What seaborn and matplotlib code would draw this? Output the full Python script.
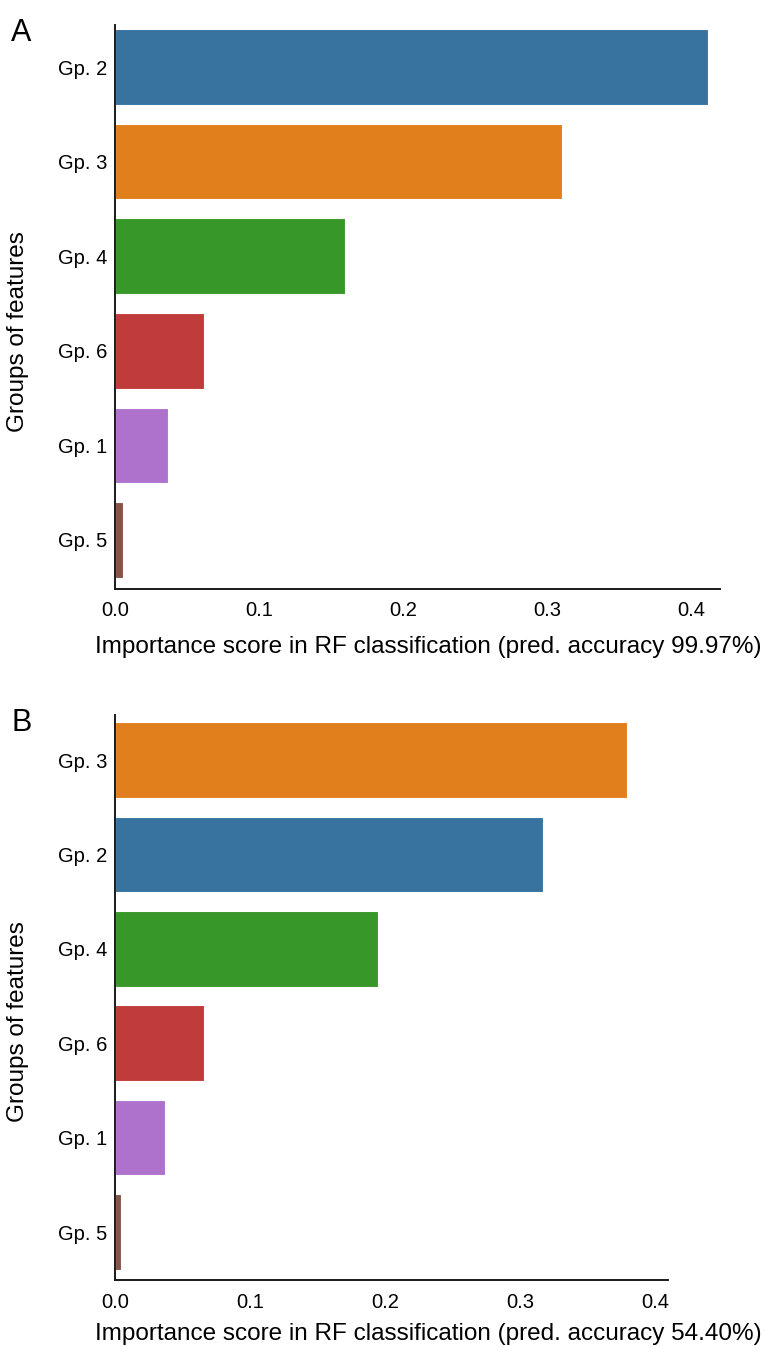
import pandas as pd
import seaborn as sns
import matplotlib.pyplot as plt

# panel A
groups_a = ["Gp. 2", "Gp. 3", "Gp. 4", "Gp. 6", "Gp. 1", "Gp. 5"]
scores_a = [0.412, 0.310, 0.160, 0.062, 0.037, 0.0056]
# panel B
groups_b = ["Gp. 3", "Gp. 2", "Gp. 4", "Gp. 6", "Gp. 1", "Gp. 5"]
scores_b = [0.379, 0.317, 0.195, 0.066, 0.037, 0.0044]

group_colors = {
    "Gp. 1": "#ae72cc",
    "Gp. 2": "#3873a0",
    "Gp. 3": "#e17f1d",
    "Gp. 4": "#389729",
    "Gp. 5": "#845446",
    "Gp. 6": "#c03c3b",
}

accuracy = ["99.97%", "54.40%"]

sns.set_style("white")
plt.rcParams["font.family"] = ["Liberation Sans", "DejaVu Sans"]
plt.rcParams["text.color"] = "black"
plt.rcParams["axes.labelcolor"] = "black"

W, H = 766, 1347
fig = plt.figure(figsize=(W / 100, H / 100), dpi=100)


def rect(l, r, t, b):
    return [l / W, 1 - b / H, (r - l) / W, (b - t) / H]


def panel(box, groups, scores, acc, xm, ylim, label_y, xlab_gap, letter):
    l, r, t, b = box
    ax = fig.add_axes(rect(l, r, t, b))
    df = pd.DataFrame({"group": groups, "score": scores})
    sns.barplot(data=df, x="score", y="group", hue="group", palette=group_colors,
                order=groups, legend=False, width=0.8, edgecolor="white",
                linewidth=0.8, saturation=1, ax=ax)
    ax.set_xlim(0, xm)
    ax.set_ylim(*ylim)
    ax.set_xticks([0, 0.1, 0.2, 0.3, 0.4])
    ax.set_xticklabels(["0.0", "0.1", "0.2", "0.3", "0.4"])
    ax.tick_params(axis="both", length=0, labelsize=14.5, colors="black")
    ax.tick_params(axis="x", pad=9)
    ax.tick_params(axis="y", pad=5.5)
    sns.despine(ax=ax)
    for s in ["left", "bottom"]:
        ax.spines[s].set_color("#1a1a1a")
        ax.spines[s].set_linewidth(1.4)
    ax.set_xlabel(f"Importance score in RF classification (pred. accuracy {acc})",
                  fontsize=17.5)
    ax.xaxis.set_label_coords((428 - l) / (r - l), -xlab_gap / (b - t))
    ax.set_ylabel("Groups of features", fontsize=17.5)
    ax.yaxis.set_label_coords((29 - l) / (r - l), (b - label_y) / (b - t))
    fig.text(11 / W, 1 - (t - 7) / H, letter, fontsize=22, va="top", ha="left")
    return ax


panel((115, 720, 25, 589), groups_a, scores_a, accuracy[0], 0.42,
      (5.518, -0.444), 332, 47, "A")
panel((115, 668, 715, 1280), groups_b, scores_b, accuracy[1], 0.4096,
      (5.508, -0.477), 1022, 43, "B")

fig.savefig("out.png", dpi=100)
